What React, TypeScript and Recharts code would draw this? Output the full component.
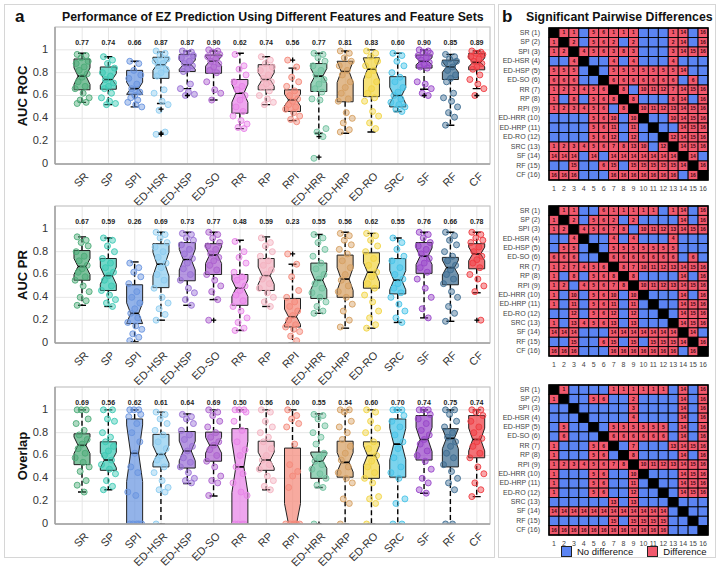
import React from 'react';
import { ComposedChart, ScatterChart, Bar, Scatter, XAxis, YAxis, CartesianGrid } from 'recharts';

const categories = ['SR', 'SP', 'SPI', 'ED-HSR', 'ED-HSP', 'ED-SO', 'RR', 'RP', 'RPI', 'ED-HRR', 'ED-HRP', 'ED-RO', 'SRC', 'SF', 'RF', 'CF'];
const palette = ['#4dab78', '#3cc9b4', '#6a95e0', '#8dcdf0', '#9a70d6', '#ad62cf', '#e884e8', '#f3b2c0', '#f4897a', '#70c29f', '#d6a062', '#f2d544', '#48c4e8', '#9846c9', '#3e6d92', '#ef3c42'];

// ---------- AUC ROC ----------
const rocQ1 = [0.65, 0.655, 0.61, 0.75, 0.81, 0.795, 0.445, 0.65, 0.46, 0.635, 0.545, 0.59, 0.50, 0.84, 0.74, 0.825];
const rocMed = [0.77, 0.74, 0.66, 0.87, 0.87, 0.90, 0.62, 0.74, 0.56, 0.77, 0.81, 0.83, 0.60, 0.90, 0.85, 0.89];
const rocQ3 = [0.92, 0.85, 0.82, 0.935, 0.96, 0.955, 0.74, 0.87, 0.65, 0.88, 0.90, 0.93, 0.765, 0.955, 0.91, 0.97];
const rocLo = [0.54, 0.52, 0.50, 0.53, 0.66, 0.56, 0.31, 0.52, 0.38, 0.27, 0.27, 0.28, 0.46, 0.655, 0.34, 0.66];
const rocHi = [0.97, 0.94, 0.90, 0.98, 0.99, 0.99, 0.97, 0.94, 0.84, 0.97, 0.99, 1.0, 0.97, 1.0, 0.96, 0.99];
const rocPts = [
  [0.96, 0.95, 0.93, 0.90, 0.88, 0.85, 0.82, 0.79, 0.76, 0.72, 0.68, 0.66, 0.62, 0.58, 0.56, 0.54, 0.53],
  [0.94, 0.91, 0.88, 0.84, 0.80, 0.77, 0.74, 0.71, 0.68, 0.66, 0.62, 0.58, 0.55, 0.53, 0.52],
  [0.90, 0.88, 0.82, 0.78, 0.75, 0.70, 0.66, 0.63, 0.60, 0.58, 0.56, 0.54, 0.52, 0.50],
  [0.99, 0.97, 0.95, 0.92, 0.90, 0.88, 0.86, 0.83, 0.80, 0.77, 0.65, 0.62, 0.55, 0.52, 0.47, 0.28, 0.26],
  [0.99, 0.98, 0.97, 0.95, 0.93, 0.90, 0.88, 0.86, 0.83, 0.81, 0.70, 0.66, 0.63, 0.61, 0.60],
  [1.0, 0.99, 0.98, 0.96, 0.94, 0.92, 0.90, 0.88, 0.85, 0.82, 0.80, 0.72, 0.65, 0.62, 0.56],
  [0.96, 0.86, 0.83, 0.78, 0.72, 0.68, 0.65, 0.60, 0.56, 0.50, 0.46, 0.42, 0.38, 0.35, 0.32, 0.31],
  [0.94, 0.91, 0.88, 0.85, 0.82, 0.78, 0.75, 0.72, 0.70, 0.67, 0.64, 0.60, 0.57, 0.54, 0.52],
  [0.91, 0.85, 0.76, 0.72, 0.68, 0.64, 0.60, 0.57, 0.55, 0.52, 0.50, 0.48, 0.45, 0.42, 0.39, 0.37],
  [0.97, 0.96, 0.93, 0.90, 0.86, 0.82, 0.78, 0.74, 0.70, 0.66, 0.63, 0.57, 0.56, 0.31, 0.28, 0.24, 0.05],
  [0.99, 0.97, 0.93, 0.90, 0.86, 0.82, 0.78, 0.72, 0.67, 0.62, 0.57, 0.55, 0.45, 0.40, 0.36, 0.30, 0.28],
  [0.99, 0.97, 0.94, 0.90, 0.86, 0.82, 0.78, 0.72, 0.66, 0.62, 0.58, 0.55, 0.46, 0.42, 0.36, 0.31],
  [0.97, 0.95, 0.90, 0.86, 0.80, 0.76, 0.72, 0.67, 0.63, 0.60, 0.57, 0.54, 0.52, 0.50, 0.48, 0.46],
  [1.0, 0.99, 0.98, 0.97, 0.95, 0.93, 0.91, 0.89, 0.87, 0.85, 0.84, 0.72, 0.70, 0.66, 0.62, 0.60],
  [0.96, 0.94, 0.92, 0.90, 0.88, 0.85, 0.82, 0.78, 0.75, 0.72, 0.62, 0.58, 0.55, 0.50, 0.45, 0.41, 0.34],
  [0.99, 0.98, 0.97, 0.96, 0.94, 0.92, 0.90, 0.88, 0.85, 0.83, 0.78, 0.74, 0.70, 0.66, 0.60],
];
const rocOut = [[], [], [], [0.48, 0.27, 0.26], [0.60], [], [], [], [0.91], [0.24, 0.06], [], [], [], [0.60], [], [0.60]];

// ---------- AUC PR ----------
const prQ1 = [0.55, 0.46, 0.17, 0.485, 0.545, 0.60, 0.33, 0.46, 0.14, 0.39, 0.40, 0.48, 0.43, 0.61, 0.51, 0.65];
const prMed = [0.67, 0.59, 0.26, 0.69, 0.73, 0.77, 0.48, 0.59, 0.23, 0.55, 0.56, 0.62, 0.55, 0.76, 0.66, 0.78];
const prQ3 = [0.81, 0.74, 0.51, 0.87, 0.88, 0.87, 0.60, 0.74, 0.39, 0.70, 0.77, 0.79, 0.74, 0.88, 0.75, 0.87];
const prLo = [0.33, 0.32, 0.01, 0.20, 0.33, 0.38, 0.11, 0.32, 0.0, 0.26, 0.13, 0.13, 0.18, 0.22, 0.19, 0.44];
const prHi = [0.93, 0.92, 0.71, 0.97, 0.97, 0.97, 0.90, 0.93, 0.69, 0.95, 0.97, 0.96, 0.92, 0.97, 0.97, 0.97];
const prPts = [
  [0.93, 0.90, 0.88, 0.85, 0.80, 0.76, 0.72, 0.68, 0.65, 0.62, 0.58, 0.55, 0.50, 0.45, 0.40, 0.37, 0.33],
  [0.92, 0.90, 0.85, 0.80, 0.74, 0.70, 0.66, 0.62, 0.59, 0.55, 0.50, 0.46, 0.42, 0.38, 0.35, 0.32],
  [0.70, 0.66, 0.62, 0.58, 0.52, 0.45, 0.40, 0.35, 0.30, 0.26, 0.22, 0.18, 0.15, 0.12, 0.08, 0.05, 0.02],
  [0.97, 0.95, 0.92, 0.88, 0.84, 0.80, 0.75, 0.70, 0.66, 0.60, 0.55, 0.48, 0.40, 0.35, 0.30, 0.25, 0.20],
  [0.96, 0.95, 0.92, 0.90, 0.86, 0.82, 0.78, 0.74, 0.70, 0.65, 0.60, 0.55, 0.48, 0.44, 0.38, 0.33],
  [0.97, 0.95, 0.92, 0.88, 0.85, 0.82, 0.78, 0.75, 0.72, 0.68, 0.64, 0.60, 0.55, 0.50, 0.45, 0.38, 0.20],
  [0.89, 0.80, 0.75, 0.70, 0.62, 0.58, 0.55, 0.50, 0.46, 0.42, 0.37, 0.32, 0.28, 0.22, 0.18, 0.13, 0.11],
  [0.92, 0.88, 0.85, 0.80, 0.76, 0.72, 0.68, 0.64, 0.60, 0.56, 0.52, 0.48, 0.44, 0.40, 0.36, 0.32],
  [0.78, 0.69, 0.58, 0.46, 0.40, 0.36, 0.32, 0.28, 0.24, 0.20, 0.16, 0.14, 0.12, 0.10, 0.06, 0.02],
  [0.95, 0.92, 0.88, 0.82, 0.76, 0.70, 0.65, 0.60, 0.56, 0.52, 0.48, 0.44, 0.40, 0.36, 0.32, 0.28, 0.26],
  [0.96, 0.94, 0.90, 0.86, 0.82, 0.78, 0.72, 0.66, 0.60, 0.55, 0.50, 0.45, 0.40, 0.34, 0.28, 0.20, 0.14],
  [0.96, 0.94, 0.90, 0.85, 0.80, 0.74, 0.68, 0.62, 0.58, 0.52, 0.48, 0.42, 0.36, 0.28, 0.22, 0.16, 0.13],
  [0.92, 0.88, 0.82, 0.76, 0.72, 0.66, 0.60, 0.56, 0.52, 0.48, 0.44, 0.40, 0.34, 0.28, 0.22, 0.18],
  [0.97, 0.95, 0.92, 0.88, 0.85, 0.82, 0.78, 0.74, 0.70, 0.66, 0.62, 0.56, 0.48, 0.40, 0.30, 0.22],
  [0.97, 0.94, 0.90, 0.86, 0.80, 0.76, 0.72, 0.68, 0.64, 0.60, 0.56, 0.52, 0.45, 0.40, 0.32, 0.26, 0.19],
  [0.97, 0.95, 0.92, 0.90, 0.88, 0.84, 0.80, 0.76, 0.73, 0.70, 0.66, 0.60, 0.56, 0.50, 0.45, 0.20],
];
const prOut = [[], [], [], [], [], [0.20], [], [], [0.78], [], [], [], [], [], [], [0.20]];

// ---------- Overlap ----------
const ovQ1 = [0.52, 0.47, 0.0, 0.50, 0.49, 0.55, 0.0, 0.47, 0.0, 0.40, 0.41, 0.40, 0.41, 0.56, 0.50, 0.58];
const ovMed = [0.69, 0.56, 0.62, 0.61, 0.64, 0.69, 0.50, 0.56, 0.0, 0.55, 0.54, 0.60, 0.70, 0.74, 0.75, 0.74];
const ovQ3 = [0.79, 0.72, 0.92, 0.785, 0.81, 0.805, 0.835, 0.725, 0.665, 0.63, 0.725, 0.72, 0.92, 0.95, 0.835, 0.95];
const ovLo = [0.28, 0.30, 0.0, 0.0, 0.355, 0.245, 0.0, 0.30, 0.0, 0.32, 0.0, 0.0, 0.0, 0.27, 0.0, 0.24];
const ovHi = [1.0, 1.0, 1.0, 0.98, 0.965, 1.0, 1.0, 1.0, 1.0, 0.965, 1.0, 1.0, 1.0, 1.0, 1.0, 1.0];
const ovPts = [
  [1.0, 1.0, 1.0, 0.92, 0.88, 0.82, 0.78, 0.74, 0.70, 0.66, 0.62, 0.58, 0.54, 0.50, 0.46, 0.38, 0.34, 0.28],
  [1.0, 1.0, 0.92, 0.90, 0.80, 0.76, 0.72, 0.68, 0.64, 0.60, 0.56, 0.52, 0.48, 0.44, 0.38, 0.33, 0.30],
  [1.0, 1.0, 1.0, 0.96, 0.94, 0.88, 0.80, 0.72, 0.62, 0.50, 0.45, 0.28, 0.25, 0.0, 0.0, 0.0, 0.0, 0.0],
  [0.98, 0.96, 0.92, 0.88, 0.82, 0.78, 0.72, 0.66, 0.60, 0.56, 0.50, 0.45, 0.38, 0.32, 0.30, 0.28, 0.0],
  [0.96, 0.94, 0.92, 0.88, 0.82, 0.78, 0.74, 0.68, 0.64, 0.58, 0.54, 0.50, 0.45, 0.40, 0.38, 0.36],
  [1.0, 0.98, 0.95, 0.90, 0.85, 0.80, 0.76, 0.72, 0.69, 0.65, 0.60, 0.55, 0.50, 0.42, 0.38, 0.36, 0.25],
  [1.0, 1.0, 1.0, 0.98, 0.90, 0.82, 0.72, 0.65, 0.60, 0.50, 0.44, 0.36, 0.28, 0.25, 0.0, 0.0, 0.0, 0.0],
  [1.0, 0.98, 0.90, 0.85, 0.80, 0.76, 0.72, 0.66, 0.60, 0.56, 0.52, 0.48, 0.42, 0.38, 0.33, 0.30],
  [1.0, 0.95, 0.92, 0.88, 0.85, 0.70, 0.52, 0.46, 0.42, 0.32, 0.0, 0.0, 0.0, 0.0, 0.0, 0.0],
  [0.96, 0.95, 0.92, 0.86, 0.80, 0.76, 0.70, 0.62, 0.58, 0.55, 0.52, 0.48, 0.44, 0.40, 0.34, 0.32, 0.0],
  [1.0, 1.0, 0.98, 0.90, 0.85, 0.80, 0.74, 0.68, 0.62, 0.56, 0.50, 0.45, 0.40, 0.36, 0.22, 0.18, 0.0],
  [1.0, 0.98, 0.90, 0.84, 0.80, 0.72, 0.66, 0.60, 0.55, 0.50, 0.45, 0.40, 0.36, 0.24, 0.22, 0.18, 0.0],
  [1.0, 1.0, 1.0, 0.95, 0.90, 0.85, 0.78, 0.72, 0.66, 0.58, 0.50, 0.45, 0.40, 0.22, 0.18, 0.0, 0.0],
  [1.0, 1.0, 1.0, 0.96, 0.92, 0.88, 0.82, 0.78, 0.74, 0.70, 0.64, 0.60, 0.55, 0.48, 0.40, 0.36, 0.30, 0.27],
  [1.0, 1.0, 0.96, 0.90, 0.85, 0.80, 0.76, 0.72, 0.68, 0.62, 0.58, 0.52, 0.46, 0.40, 0.36, 0.30, 0.0, 0.0],
  [1.0, 1.0, 0.98, 0.95, 0.90, 0.85, 0.80, 0.75, 0.72, 0.68, 0.62, 0.58, 0.50, 0.44, 0.36, 0.30, 0.24],
];
const ovOut = [[], [], [], [], [], [], [], [], [], [0.0], [], [], [], [], [], []];

// ---------- Pairwise differences (0 = no difference, -1 = diagonal, k = better feature) ----------
const rocDiff = [
  [-1, 1, 1, 0, 5, 6, 1, 1, 1, 0, 0, 0, 1, 14, 0, 16],
  [1, -1, 2, 0, 5, 6, 2, 0, 2, 0, 0, 0, 2, 14, 0, 16],
  [1, 2, -1, 4, 5, 6, 3, 8, 3, 0, 0, 0, 3, 14, 15, 16],
  [0, 0, 4, -1, 0, 0, 4, 0, 4, 0, 0, 0, 4, 0, 0, 0],
  [5, 5, 5, 0, -1, 0, 5, 5, 5, 5, 5, 5, 5, 14, 0, 0],
  [6, 6, 6, 0, 0, -1, 6, 6, 6, 6, 6, 6, 6, 0, 6, 0],
  [1, 2, 3, 4, 5, 6, -1, 8, 0, 10, 11, 12, 7, 14, 15, 16],
  [1, 0, 8, 0, 5, 6, 8, -1, 8, 0, 0, 0, 8, 14, 0, 16],
  [1, 2, 3, 4, 5, 6, 0, 8, -1, 10, 11, 12, 13, 14, 15, 16],
  [0, 0, 0, 0, 5, 6, 10, 0, 10, -1, 0, 0, 10, 14, 15, 16],
  [0, 0, 0, 0, 5, 6, 11, 0, 11, 0, -1, 0, 0, 14, 15, 16],
  [0, 0, 0, 0, 5, 6, 12, 0, 12, 0, 0, -1, 12, 14, 15, 16],
  [1, 2, 3, 4, 5, 6, 7, 8, 13, 10, 0, 12, -1, 14, 15, 16],
  [14, 14, 14, 0, 14, 0, 14, 14, 14, 14, 14, 14, 14, -1, 14, 0],
  [0, 0, 15, 0, 0, 6, 15, 0, 15, 15, 15, 15, 15, 14, -1, 16],
  [16, 16, 16, 0, 0, 0, 16, 16, 16, 16, 16, 16, 16, 0, 16, -1],
];
const prDiff = [
  [-1, 1, 1, 0, 0, 6, 1, 1, 1, 1, 1, 0, 1, 14, 0, 16],
  [1, -1, 2, 0, 5, 6, 2, 0, 2, 0, 0, 0, 0, 14, 0, 16],
  [1, 2, -1, 4, 5, 6, 7, 8, 0, 10, 11, 12, 13, 14, 15, 16],
  [0, 0, 4, -1, 0, 0, 4, 0, 4, 0, 0, 0, 4, 0, 0, 0],
  [0, 5, 5, 0, -1, 0, 5, 5, 5, 5, 5, 5, 5, 0, 0, 0],
  [6, 6, 6, 0, 0, -1, 6, 6, 6, 6, 6, 6, 6, 0, 6, 0],
  [1, 2, 7, 4, 5, 6, -1, 8, 7, 10, 11, 12, 13, 14, 15, 16],
  [1, 0, 8, 0, 5, 6, 8, -1, 8, 0, 0, 0, 0, 14, 0, 16],
  [1, 2, 0, 4, 5, 6, 7, 8, -1, 10, 11, 12, 13, 14, 15, 16],
  [1, 0, 10, 0, 5, 6, 10, 0, 10, -1, 0, 0, 0, 14, 0, 16],
  [1, 0, 11, 0, 5, 6, 11, 0, 11, 0, -1, 0, 0, 14, 15, 16],
  [0, 0, 12, 0, 5, 6, 12, 0, 12, 0, 0, -1, 0, 14, 15, 16],
  [1, 0, 13, 4, 5, 6, 13, 0, 13, 0, 0, 0, -1, 14, 15, 16],
  [14, 14, 14, 0, 0, 0, 14, 14, 14, 14, 14, 14, 14, -1, 14, 0],
  [0, 0, 15, 0, 0, 6, 15, 0, 15, 0, 15, 15, 15, 14, -1, 16],
  [16, 16, 16, 0, 0, 0, 16, 16, 16, 16, 16, 16, 16, 0, 16, -1],
];
const ovDiff = [
  [-1, 1, 0, 0, 0, 0, 1, 1, 1, 1, 1, 1, 0, 14, 0, 16],
  [1, -1, 0, 0, 5, 6, 0, 0, 2, 0, 0, 0, 0, 14, 0, 16],
  [0, 0, -1, 0, 0, 0, 0, 0, 3, 0, 0, 0, 0, 14, 0, 16],
  [0, 0, 0, -1, 0, 0, 0, 0, 4, 0, 0, 0, 0, 14, 0, 16],
  [0, 5, 0, 0, -1, 0, 5, 5, 5, 5, 5, 5, 0, 14, 0, 16],
  [0, 6, 0, 0, 0, -1, 6, 6, 6, 6, 6, 6, 0, 14, 0, 16],
  [1, 0, 0, 0, 5, 6, -1, 0, 7, 0, 0, 0, 13, 14, 15, 16],
  [1, 0, 0, 0, 5, 6, 0, -1, 8, 0, 0, 0, 0, 14, 0, 16],
  [1, 2, 3, 4, 5, 6, 7, 8, -1, 10, 11, 12, 13, 14, 15, 16],
  [1, 0, 0, 0, 5, 6, 0, 0, 10, -1, 0, 0, 0, 14, 15, 16],
  [1, 0, 0, 0, 5, 6, 0, 0, 11, 0, -1, 0, 0, 14, 15, 16],
  [1, 0, 0, 0, 5, 6, 0, 0, 12, 0, 0, -1, 0, 14, 15, 16],
  [0, 0, 0, 0, 0, 0, 13, 0, 13, 0, 0, 0, -1, 0, 0, 0],
  [14, 14, 14, 14, 14, 14, 14, 14, 14, 14, 14, 14, 0, -1, 0, 0],
  [0, 0, 0, 0, 0, 0, 15, 0, 15, 15, 15, 15, 0, 0, -1, 0],
  [16, 16, 16, 16, 16, 16, 16, 16, 16, 16, 16, 16, 0, 0, 0, -1],
];

const yTicks = [0, 0.2, 0.4, 0.6, 0.8, 1];
const diffTicks = [1, 2, 3, 4, 5, 6, 7, 8, 9, 10, 11, 12, 13, 14, 15, 16];

// styles (not data)
const FONT = '"Liberation Sans", Arial, Helvetica, sans-serif';
const jitter = [-5, 4, -1, 6, -6, 2, -3, 5, 0, -4, 3, -7, 1, 7, -2, 4, -5, 2];
const N_SUBJ = 34;
const RED = '#f1596d';
const BLUE = '#5b84f2';

const BoxShape = (props: any) => {
  const { x, y, width, height, payload } = props;
  if (x == null || payload == null) return null;
  const { q1, q3, med, lo, hi, color } = payload;
  const unit = height / (q3 - q1);
  const py = (v: number) => y + (q3 - v) * unit;
  const cx = x + width / 2;
  const hw = width / 2;
  const nhw = hw * 0.5;
  const notch = (1.57 * (q3 - q1)) / Math.sqrt(N_SUBJ);
  const nTop = Math.min(med + notch, q3);
  const nBot = Math.max(med - notch, q1);
  const d = `M${cx - hw},${py(q3)} L${cx + hw},${py(q3)} L${cx + hw},${py(nTop)} L${cx + nhw},${py(med)} L${cx + hw},${py(nBot)} L${cx + hw},${py(q1)} L${cx - hw},${py(q1)} L${cx - hw},${py(nBot)} L${cx - nhw},${py(med)} L${cx - hw},${py(nTop)} Z`;
  return (
    <g>
      {hi > q3 && <line x1={cx} x2={cx} y1={py(q3)} y2={py(hi)} stroke="#000" strokeWidth={1.4} strokeDasharray="5 3" />}
      {hi > q3 && <line x1={cx - 4} x2={cx + 4} y1={py(hi)} y2={py(hi)} stroke="#000" strokeWidth={1.4} />}
      {lo < q1 && <line x1={cx} x2={cx} y1={py(q1)} y2={py(lo)} stroke="#000" strokeWidth={1.4} strokeDasharray="5 3" />}
      {lo < q1 && <line x1={cx - 4} x2={cx + 4} y1={py(lo)} y2={py(lo)} stroke="#000" strokeWidth={1.4} />}
      <path d={d} fill={color} fillOpacity={0.72} stroke="#222" strokeWidth={1} />
      <line x1={cx - nhw} x2={cx + nhw} y1={py(med)} y2={py(med)} stroke="#000" strokeWidth={1.6} />
      <text x={cx} y={py(1.055)} textAnchor="middle" dominantBaseline="middle" fontSize={7} fontWeight="bold" fill="#222" fontFamily={FONT}>
        {med.toFixed(2)}
      </text>
    </g>
  );
};

const PointShape = (p: any) => {
  if (p.cx == null || p.cy == null) return null;
  return <circle cx={p.cx + p.payload.dx} cy={p.cy} r={3} fill={p.payload.color} fillOpacity={0.45} stroke={p.payload.color} strokeWidth={0.9} />;
};

const PlusShape = (p: any) => {
  if (p.cx == null || p.cy == null) return null;
  return (
    <g>
      <line x1={p.cx - 2.5} x2={p.cx + 2.5} y1={p.cy} y2={p.cy} stroke="#000" strokeWidth={1.3} />
      <line x1={p.cx} x2={p.cx} y1={p.cy - 2.5} y2={p.cy + 2.5} stroke="#000" strokeWidth={1.3} />
    </g>
  );
};

const XTick = (props: any) => {
  const { x, y, payload } = props;
  const ax = x + 5;
  const ay = y + 3;
  return (
    <text x={ax} y={ay} transform={`rotate(-45 ${ax} ${ay})`} textAnchor="end" dominantBaseline="middle" fontSize={11} fill="#333" fontFamily={FONT}>
      {payload.value}
    </text>
  );
};

const YTick = (props: any) => {
  const { x, y, payload } = props;
  const v = payload.value;
  const label = v === 0 ? '0' : v === 1 ? '1' : String(v);
  return (
    <text x={x + 1} y={y} textAnchor="end" dominantBaseline="middle" fontSize={11} fill="#333" fontFamily={FONT}>
      {label}
    </text>
  );
};

const BOX_W = 500;
const BOX_H = 224;
const X_H = 30;
const BOX_M = { top: 27, right: 10, bottom: 30, left: 25 };

function BoxPanel(props: any) {
  const { top, yLabel, q1, med, q3, lo, hi, pts, outs } = props;
  const data = categories.map((c, i) => ({ cat: c, q1: q1[i], med: med[i], q3: q3[i], lo: lo[i], hi: hi[i], color: palette[i] }));
  const points: any[] = [];
  categories.forEach((c, i) => {
    pts[i].forEach((v: number, j: number) => points.push({ cat: c, v, dx: jitter[j % jitter.length], color: palette[i] }));
  });
  const outliers: any[] = [];
  categories.forEach((c, i) => outs[i].forEach((v: number) => outliers.push({ cat: c, v })));
  const plotTop = BOX_M.top;
  const plotBottom = BOX_H - BOX_M.bottom - X_H;
  const plotLeft = BOX_M.left + 30;
  const plotRight = BOX_W - BOX_M.right;
  return (
    <div style={{ position: 'absolute', left: 0, top, width: BOX_W, height: BOX_H }}>
      <ComposedChart width={BOX_W} height={BOX_H} data={data} margin={BOX_M}>
        <CartesianGrid stroke="#e6e6e6" />
        <XAxis
          dataKey="cat"
          type="category"
          allowDuplicatedCategory={false}
          padding={{ left: 14, right: 0 }}
          height={X_H}
          interval={0}
          tick={<XTick />}
          tickLine={false}
          axisLine={{ stroke: '#9a9a9a' }}
        />
        <YAxis type="number" domain={[0, 1.2]} ticks={yTicks} interval={0} width={30} tick={<YTick />} tickLine={false} axisLine={{ stroke: '#9a9a9a' }} allowDataOverflow />
        <Bar dataKey={(d: any) => [d.q1, d.q3]} barSize={16} shape={BoxShape} isAnimationActive={false} />
        <Scatter data={points} dataKey="v" shape={PointShape} isAnimationActive={false} />
        <Scatter data={outliers} dataKey="v" shape={PlusShape} isAnimationActive={false} />
      </ComposedChart>
      <svg width={BOX_W} height={BOX_H} style={{ position: 'absolute', left: 0, top: 0, pointerEvents: 'none' }}>
        <rect x={plotLeft} y={plotTop} width={plotRight - plotLeft} height={plotBottom - plotTop} fill="none" stroke="#c4c4c4" strokeWidth={1} />
        <line x1={plotLeft} x2={plotRight} y1={plotBottom} y2={plotBottom} stroke="#9a9a9a" />
        <line x1={plotLeft} x2={plotLeft} y1={plotTop} y2={plotBottom} stroke="#9a9a9a" />
      </svg>
      <div
        style={{
          position: 'absolute',
          left: 22,
          top: (plotTop + plotBottom) / 2,
          transform: 'translate(-50%, -50%) rotate(-90deg)',
          fontFamily: FONT,
          fontWeight: 'bold',
          fontSize: 13,
          color: '#111',
          whiteSpace: 'nowrap',
        }}
      >
        {yLabel}
      </div>
    </div>
  );
}

const HM_LEFT = 495;
const HM_W = 216;
const HM_YAXIS = 54;
const HM_M = { top: 8, right: 3, bottom: 2, left: 0 };
const HM_PLOT_W = HM_W - HM_M.right - HM_M.left - HM_YAXIS;

const CellShape = (p: any, plotH: number) => {
  if (p.cx == null || p.cy == null) return null;
  const cw = HM_PLOT_W / 16;
  const ch = plotH / 16;
  const v = p.payload.v;
  const fill = v < 0 ? '#000' : v === 0 ? BLUE : RED;
  return (
    <g>
      <rect x={p.cx - cw / 2} y={p.cy - ch / 2} width={cw} height={ch} fill={fill} stroke="#000" strokeWidth={0.9} />
      {v > 0 && (
        <text x={p.cx} y={p.cy + 0.3} textAnchor="middle" dominantBaseline="middle" fontSize={5} fontWeight="bold" fill="#3b0710" fontFamily={FONT}>
          {v}
        </text>
      )}
    </g>
  );
};

const HmYTick = (props: any) => {
  const { x, y, payload } = props;
  const r = payload.value;
  return (
    <text x={x - 1} y={y} textAnchor="end" dominantBaseline="middle" fontSize={7} fill="#444" fontFamily={FONT}>
      {`${categories[r - 1]} (${r})`}
    </text>
  );
};

const HmXTick = (props: any) => {
  const { x, y, payload } = props;
  return (
    <text x={x} y={y + 1} textAnchor="middle" dominantBaseline="middle" fontSize={7} fill="#444" fontFamily={FONT}>
      {payload.value}
    </text>
  );
};

function DiffPanel(props: any) {
  const { plotTop, plotH, matrix } = props;
  const cells: any[] = [];
  matrix.forEach((row: number[], r: number) => row.forEach((v: number, c: number) => cells.push({ c: c + 1, r: r + 1, v })));
  const H = HM_M.top + plotH + 14 + HM_M.bottom;
  return (
    <div style={{ position: 'absolute', left: HM_LEFT, top: plotTop - HM_M.top, width: HM_W, height: H }}>
      <ScatterChart width={HM_W} height={H} margin={HM_M}>
        <XAxis type="number" dataKey="c" domain={[0.5, 16.5]} ticks={diffTicks} interval={0} height={14} tick={<HmXTick />} tickLine={false} axisLine={false} />
        <YAxis type="number" dataKey="r" domain={[0.5, 16.5]} ticks={diffTicks} interval={0} reversed width={HM_YAXIS} tick={<HmYTick />} tickLine={false} axisLine={false} />
        <Scatter data={cells} shape={(p: any) => CellShape(p, plotH)} isAnimationActive={false} />
      </ScatterChart>
      <svg width={HM_W} height={H} style={{ position: 'absolute', left: 0, top: 0, pointerEvents: 'none' }}>
        <rect x={HM_YAXIS} y={HM_M.top} width={HM_PLOT_W} height={plotH} fill="none" stroke="#000" strokeWidth={1.5} />
      </svg>
    </div>
  );
}

export default function App() {
  return (
    <div style={{ position: 'absolute', left: 0, top: 0, width: 720, height: 571, background: '#fff', overflow: 'hidden', fontFamily: FONT }}>
      <svg width={720} height={571} style={{ position: 'absolute', left: 0, top: 0 }}>
        <rect x={4.5} y={4.5} width={490} height={553} fill="none" stroke="#d6d6d6" />
        <rect x={498.5} y={4.5} width={217} height={553} fill="none" stroke="#d6d6d6" />
      </svg>
      <div style={{ position: 'absolute', left: 15, top: 7, fontSize: 17, fontWeight: 'bold', color: '#111' }}>a</div>
      <div style={{ position: 'absolute', left: 62, top: 10, fontSize: 12.3, fontWeight: 'bold', color: '#111', whiteSpace: 'nowrap' }}>
        Performance of EZ Prediction Using Different Features and Feature Sets
      </div>
      <div style={{ position: 'absolute', left: 502, top: 7, fontSize: 17, fontWeight: 'bold', color: '#111' }}>b</div>
      <div style={{ position: 'absolute', left: 526, top: 10, fontSize: 12.3, fontWeight: 'bold', color: '#111', whiteSpace: 'nowrap' }}>
        Significant Pairwise Differences
      </div>

      <BoxPanel top={0} yLabel="AUC ROC" q1={rocQ1} med={rocMed} q3={rocQ3} lo={rocLo} hi={rocHi} pts={rocPts} outs={rocOut} />
      <BoxPanel top={179} yLabel="AUC PR" q1={prQ1} med={prMed} q3={prQ3} lo={prLo} hi={prHi} pts={prPts} outs={prOut} />
      <BoxPanel top={360} yLabel="Overlap" q1={ovQ1} med={ovMed} q3={ovQ3} lo={ovLo} hi={ovHi} pts={ovPts} outs={ovOut} />

      <DiffPanel plotTop={28} plotH={152} matrix={rocDiff} />
      <DiffPanel plotTop={206} plotH={150} matrix={prDiff} />
      <DiffPanel plotTop={385} plotH={150} matrix={ovDiff} />

      <div style={{ position: 'absolute', left: 561, top: 546, display: 'flex', alignItems: 'center', fontSize: 9.5, color: '#111', whiteSpace: 'nowrap' }}>
        <span style={{ display: 'inline-block', flex: 'none', width: 9, height: 9, background: BLUE, border: '1px solid #222', marginRight: 5 }} />
        <span style={{ marginRight: 14 }}>No difference</span>
        <span style={{ display: 'inline-block', flex: 'none', width: 9, height: 9, background: RED, border: '1px solid #222', marginRight: 5 }} />
        <span>Difference</span>
      </div>
    </div>
  );
}
